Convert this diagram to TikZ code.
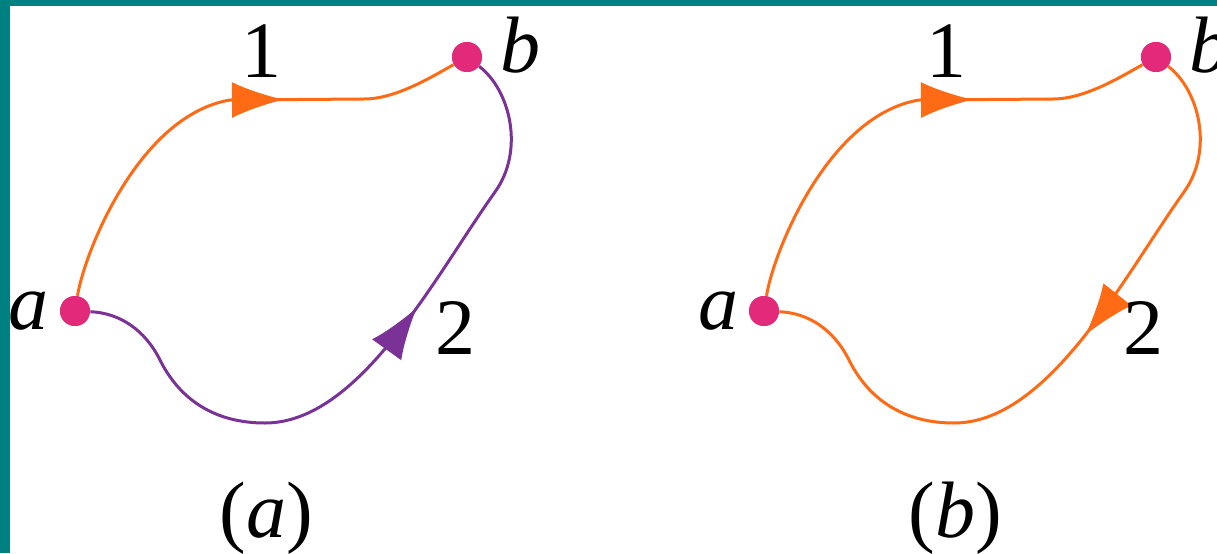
\documentclass[tikz,border=0pt]{standalone}
\usepackage{fontspec}
\setmainfont{Liberation Serif}
\usetikzlibrary{arrows.meta,decorations.markings}

\definecolor{frameteal}{RGB}{0,128,128}
\definecolor{ptpink}{RGB}{226,41,122}
\definecolor{pathorange}{RGB}{255,106,20}
\definecolor{pathpurple}{RGB}{122,50,150}

\tikzset{
  endpt/.style={circle,fill=ptpink,inner sep=0pt,minimum size=15pt},
  lbl/.style={inner sep=0pt,font=\fontsize{40}{44}\selectfont},
  route/.style={line width=1.5pt},
  midarrow/.style={postaction={decorate},decoration={markings,
    mark=at position #1 with {\arrow{Latex[length=26pt,width=18pt]}}}},
  midarrowrev/.style={postaction={decorate},decoration={markings,
    mark=at position #1 with {\arrowreversed{Latex[length=26pt,width=18pt]}}}},
}

\begin{document}
\begin{tikzpicture}[x=0.5pt,y=-0.5pt]
  \useasboundingbox (0,0) rectangle (1217,553);
  % frame
  \fill[frameteal] (0,0) rectangle (1217,6);
  \fill[frameteal] (0,0) rectangle (10,553);

  % (a)
  \node[endpt] (a1) at (75,311) {};
  \node[endpt] (b1) at (467,57) {};
  \draw[route,pathorange,midarrow=0.64] (a1) .. controls (85,250) and (140,115) .. (230,100)
    -- (364,99) .. controls (395,99) and (430,78) .. (b1);
  \draw[route,pathpurple,midarrowrev=0.40] (b1) .. controls (510,90) and (525,150) .. (495,192)
    .. controls (435,276) and (360,423) .. (265,423)
    .. controls (215,423) and (180,400) .. (160,360)
    .. controls (145,330) and (120,313) .. (a1);
  \node[endpt] at (a1) {};
  \node[endpt] at (b1) {};
  \node[lbl] (la1) at (29,311) {\textit{a}};
  \node[lbl] (lb1) at (520,45) {\textit{b}};
  \node[lbl] (lone1) at (261,51) {1};
  \node[lbl] (ltwo1) at (455,328) {2};
  \node[lbl] (cap1) at (266,518) {(\textit{a})};

  % (b)
  \begin{scope}[shift={(689,0)}]
    \node[endpt] (a2) at (75,311) {};
    \node[endpt] (b2) at (467,57) {};
    \draw[route,pathorange,midarrow=0.64] (a2) .. controls (85,250) and (140,115) .. (230,100)
      -- (364,99) .. controls (395,99) and (430,78) .. (b2);
    \draw[route,pathorange,midarrow=0.45] (b2) .. controls (510,90) and (525,150) .. (495,192)
      .. controls (435,276) and (360,423) .. (265,423)
      .. controls (215,423) and (180,400) .. (160,360)
      .. controls (145,330) and (120,313) .. (a2);
    \node[endpt] at (a2) {};
    \node[endpt] at (b2) {};
    \node[lbl] (la2) at (29,311) {\textit{a}};
    \node[lbl] (lb2) at (520,45) {\textit{b}};
    \node[lbl] (lone2) at (257,51) {1};
    \node[lbl] (ltwo2) at (454,328) {2};
    \node[lbl] (cap2) at (266,518) {(\textit{b})};
  \end{scope}
\end{tikzpicture}
\end{document}
